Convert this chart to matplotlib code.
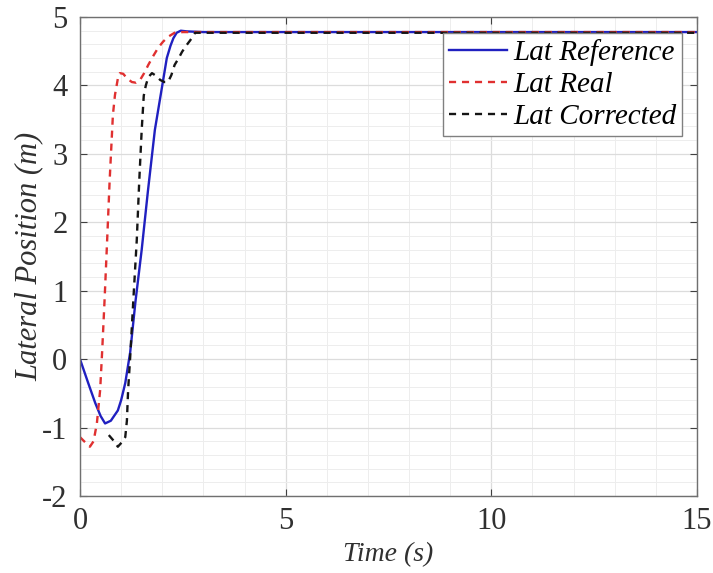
import matplotlib.pyplot as plt
from matplotlib.ticker import MultipleLocator

# values
t_ref = [0, 0.2, 0.37, 0.5, 0.61, 0.75, 0.92, 1.0, 1.1, 1.22, 1.35, 1.5, 1.65, 1.82,
         2.0, 2.11, 2.2, 2.27, 2.35, 2.45, 2.6, 3.0, 15]
y_ref = [0, -0.35, -0.64, -0.83, -0.94, -0.9, -0.75, -0.6, -0.35, 0.1, 0.85, 1.6, 2.45, 3.35,
         4.0, 4.4, 4.58, 4.69, 4.77, 4.8, 4.79, 4.78, 4.78]

t_real = [0, 0.1, 0.24, 0.33, 0.41, 0.49, 0.54, 0.6, 0.66, 0.72, 0.8, 0.85, 0.92, 0.97,
          1.05, 1.15, 1.26, 1.36, 1.46, 1.56, 1.66, 1.78, 1.9, 2.02, 2.14, 2.3, 2.5, 3.0, 15]
y_real = [-1.14, -1.2, -1.28, -1.2, -0.94, -0.45, 0.13, 0.9, 1.74, 2.6, 3.57, 3.86, 4.1, 4.18,
          4.17, 4.1, 4.05, 4.04, 4.08, 4.18, 4.3, 4.43, 4.55, 4.64, 4.71, 4.77, 4.78, 4.78, 4.78]

t_corr = [0.7, 0.8, 0.92, 1.01, 1.1, 1.14, 1.17, 1.22, 1.3, 1.38, 1.44, 1.5, 1.55, 1.6,
          1.66, 1.75, 1.85, 1.95, 2.05, 2.14, 2.22, 2.3, 2.4, 2.48, 2.58, 2.68, 2.8, 3.0, 15]
y_corr = [-1.11, -1.18, -1.28, -1.22, -1.14, -0.9, -0.45, 0.03, 0.9, 1.74, 2.6, 3.35, 3.85, 4.0,
          4.12, 4.18, 4.14, 4.08, 4.05, 4.05, 4.15, 4.3, 4.4, 4.49, 4.58, 4.66, 4.77, 4.77, 4.77]

plt.rcParams['font.family'] = ['Liberation Serif', 'DejaVu Serif']
plt.rcParams['axes.unicode_minus'] = False

fig = plt.figure(figsize=(7.13, 5.73), dpi=100)
ax = fig.add_axes([0.1122, 0.1344, 0.8654, 0.8359])

ax.plot(t_ref, y_ref, color='#2020c0', lw=1.7, label='Lat Reference')
ax.plot(t_real, y_real, color='#e03030', lw=1.7, ls='--', dashes=(3, 2.5), label='Lat Real')
ax.plot(t_corr, y_corr, color='#151515', lw=1.7, ls='--', dashes=(3, 2.5), label='Lat Corrected')

ax.set_xlim(0, 15)
ax.set_ylim(-2, 5)
ax.xaxis.set_major_locator(MultipleLocator(5))
ax.xaxis.set_minor_locator(MultipleLocator(1))
ax.yaxis.set_major_locator(MultipleLocator(1))
ax.yaxis.set_minor_locator(MultipleLocator(0.2))
ax.grid(True, which='major', color='#dcdcdc', lw=0.9)
ax.grid(True, which='minor', color='#ededed', lw=0.7)
ax.set_axisbelow(True)

ax.tick_params(which='both', direction='in', top=True, right=True, labelsize=22,
               colors='#404040', labelcolor='#303030')
ax.tick_params(axis='x', pad=8)
ax.tick_params(axis='y', pad=9)
ax.tick_params(which='major', length=5)
ax.tick_params(which='minor', length=0)
for s in ax.spines.values():
    s.set_color('#707070')
    s.set_linewidth(1.0)

ax.set_xlabel('Time (s)', fontsize=20, style='italic', color='#303030', labelpad=4)
ax.set_ylabel('Lateral Position (m)', fontsize=22, style='italic', color='#303030', labelpad=-1)

leg = ax.legend(loc='upper right', bbox_to_anchor=(0.9757, 0.9666),
                prop={'style': 'italic', 'size': 21}, fancybox=False, framealpha=1,
                edgecolor='#808080', handlelength=2.0, handletextpad=0.2,
                borderpad=0.2, labelspacing=0.2, borderaxespad=0)
leg.get_frame().set_linewidth(1.0)

plt.savefig('out.png', dpi=100)
